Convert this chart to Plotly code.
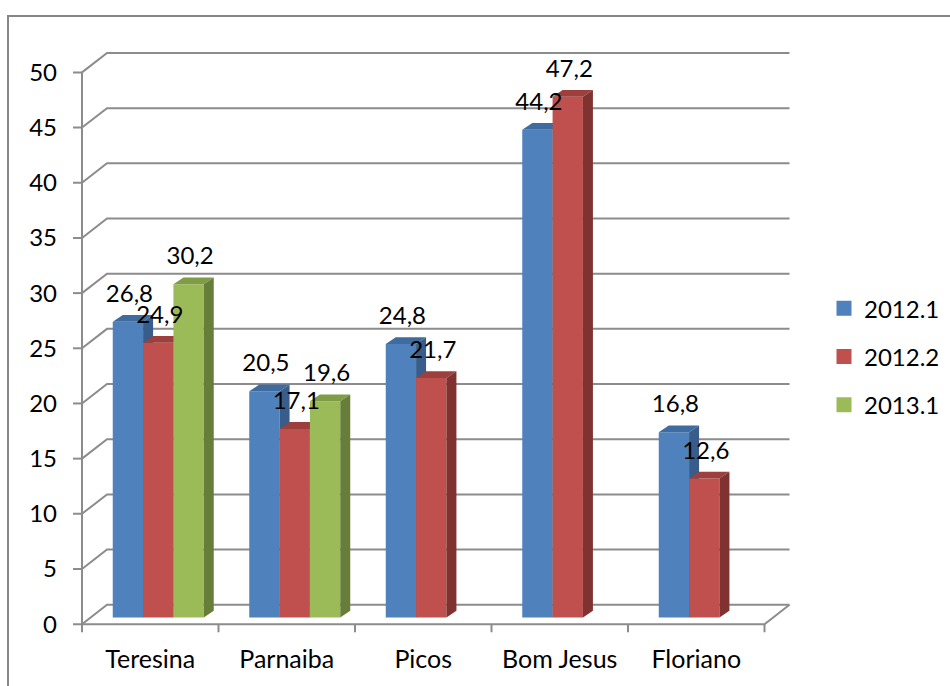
import plotly.graph_objects as go

# ---- data -------------------------------------------------------------
categories = ["Teresina", "Parnaiba", "Picos", "Bom Jesus", "Floriano"]
series_names = ["2012.1", "2012.2", "2013.1"]
values_2012_1 = [26.8, 20.5, 24.8, 44.2, 16.8]
values_2012_2 = [24.9, 17.1, 21.7, 47.2, 12.6]
values_2013_1 = [30.2, 19.6, None, None, None]
y_tick_values = [0, 5, 10, 15, 20, 25, 30, 35, 40, 45, 50]

series_values = [values_2012_1, values_2012_2, values_2013_1]
# (front, top, side) shades for each series
face_colors = [
    ("#4F81BD", "#3F6B9F", "#385D8A"),
    ("#C0504D", "#9C3F3D", "#7F3230"),
    ("#9BBB59", "#7F9C46", "#677E3A"),
]

FONT = "Lato, 'Open Sans', sans-serif"
FONT_SIZE = 24
CAT_FONT_SIZE = 25
GRID = "#8C8C8C"

# ---- pseudo-3D geometry (pixels) --------------------------------------
W, H = 950, 686
LEFT_PX, FRONT_RIGHT_PX = 82.0, 764.5      # front edge of the floor
ZERO_PX, TOP_PX = 626.0, 72.6              # value 0 and value 50 on the front axis
X_UNIT = (FRONT_RIGHT_PX - LEFT_PX) / len(categories)
Y_UNIT = (ZERO_PX - TOP_PX) / max(y_tick_values)
WALL_DX, WALL_DY = 25.0, 19.5              # depth of the floor / back wall
BAR_SHIFT_DX, BAR_SHIFT_DY = 8.0, 6.6      # bars stand a third of the way back
BAR_DX, BAR_DY = 10.0, 6.8                 # depth of each column
GROUP_WIDTH = 2.0 / 3.0
BAR_W = GROUP_WIDTH / len(series_names)


def dx(px):
    return px / X_UNIT


def dy(px):
    return px / Y_UNIT


dom_l, dom_r, dom_t, dom_b = 70, 793, 46, 637
x_range = [-0.5 - dx(LEFT_PX - dom_l), -0.5 + dx(dom_r - LEFT_PX)]
y_range = [-dy(dom_b - ZERO_PX), dy(ZERO_PX - dom_t)]

fig = go.Figure()

# legend entries
for name, cols in zip(series_names, face_colors):
    fig.add_trace(go.Scatter(
        x=[None], y=[None], mode="markers", name=name, legendgroup=name,
        marker=dict(symbol="square", size=15, color=cols[0]),
    ))


def line_trace(xs, ys, width=2):
    return go.Scatter(x=xs, y=ys, mode="lines", showlegend=False, hoverinfo="skip",
                      line=dict(color=GRID, width=width))


x0 = -0.5
x1 = len(categories) - 0.5
# back-wall gridlines with their diagonal returns to the front axis
gx, gy = [], []
for v in y_tick_values:
    gx += [x0, x0 + dx(WALL_DX), x1 + dx(WALL_DX), None]
    gy += [v, v + dy(WALL_DY), v + dy(WALL_DY), None]
fig.add_trace(line_trace(gx, gy))

# floor front edge and right-hand diagonal
fig.add_trace(line_trace([x0, x1, x1 + dx(WALL_DX)], [0, 0, dy(WALL_DY)]))
# vertical value axis
fig.add_trace(line_trace([x0, x0], [0, max(y_tick_values)]))
# value-axis ticks
tx, ty = [], []
for v in y_tick_values:
    tx += [x0 - dx(9), x0, None]
    ty += [v, v, None]
fig.add_trace(line_trace(tx, ty))
# category-axis ticks at the band edges
cx, cy = [], []
for i in range(len(categories) + 1):
    b = i - 0.5
    cx += [b, b, None]
    cy += [0, -dy(8), None]
fig.add_trace(line_trace(cx, cy))

# columns: front, top and side faces, drawn left to right
lab_x, lab_y, lab_t = [], [], []
for i in range(len(categories)):
    for k, vals in enumerate(series_values):
        v = vals[i]
        if v is None:
            continue
        front_c, top_c, side_c = face_colors[k]
        xl = i - GROUP_WIDTH / 2 + k * BAR_W + dx(BAR_SHIFT_DX)
        xr = xl + BAR_W
        yb = dy(BAR_SHIFT_DY)
        yt = v + yb
        ddx, ddy = dx(BAR_DX), dy(BAR_DY)
        faces = [
            ([xl, xr, xr, xl, xl], [yb, yb, yt, yt, yb], front_c),
            ([xl, xr, xr + ddx, xl + ddx, xl], [yt, yt, yt + ddy, yt + ddy, yt], top_c),
            ([xr, xr + ddx, xr + ddx, xr, xr], [yb, yb + ddy, yt + ddy, yt, yb], side_c),
        ]
        for fx, fy, col in faces:
            fig.add_trace(go.Scatter(
                x=fx, y=fy, mode="lines", fill="toself", fillcolor=col,
                line=dict(width=0, color=col), showlegend=False, hoverinfo="skip",
            ))
        lab_x.append((xl + xr) / 2 + dx(1.5))
        lab_y.append(yt + dy(26))
        lab_t.append(f"{v:.1f}".replace(".", ","))

fig.add_trace(go.Scatter(
    x=lab_x, y=lab_y, text=lab_t, mode="text", textposition="middle center",
    textfont=dict(family=FONT, size=FONT_SIZE, color="black"),
    showlegend=False, hoverinfo="skip", cliponaxis=False,
))

# outer chart border
fig.add_shape(type="rect", xref="paper", yref="paper",
              x0=8 / W, x1=1.05, y0=-0.05, y1=1 - 16 / H,
              line=dict(color="#868686", width=2), layer="below")

fig.update_layout(
    width=W, height=H,
    margin=dict(l=0, r=0, t=0, b=0),
    paper_bgcolor="white", plot_bgcolor="rgba(0,0,0,0)",
    font=dict(family=FONT, size=FONT_SIZE, color="black"),
    showlegend=True,
    legend=dict(
        x=824 / W, xanchor="left", y=1 - 287 / H, yanchor="top",
        traceorder="grouped", tracegroupgap=14,
        font=dict(family=FONT, size=FONT_SIZE, color="black"),
        bgcolor="rgba(0,0,0,0)",
    ),
    xaxis=dict(
        domain=[dom_l / W, dom_r / W], range=x_range,
        tickmode="array", tickvals=list(range(len(categories))), ticktext=categories,
        tickfont=dict(family=FONT, size=CAT_FONT_SIZE, color="black"),
        showgrid=False, zeroline=False, showline=False, ticks="",
        ticklabelstandoff=7, fixedrange=True,
    ),
    yaxis=dict(
        domain=[1 - dom_b / H, 1 - dom_t / H], range=y_range,
        tickmode="array", tickvals=y_tick_values,
        showgrid=False, zeroline=False, showline=False, ticks="",
        ticklabelstandoff=12, fixedrange=True,
    ),
)

fig.write_html("out.html")
